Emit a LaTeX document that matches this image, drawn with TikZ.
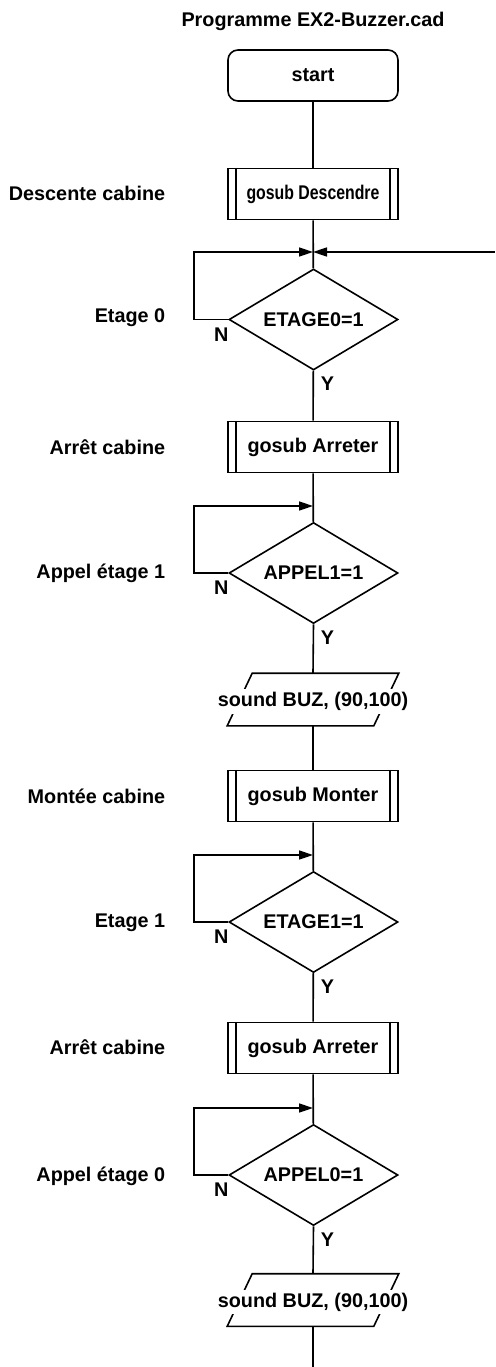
\documentclass[tikz,border=0pt]{standalone}
\usepackage{fontspec}
\setmainfont{Liberation Sans}
\usetikzlibrary{shapes.geometric,arrows.meta}
\begin{document}
\begin{tikzpicture}[x=1pt,y=-1pt,
  line width=1.6pt,
  every node/.style={font=\fontsize{19.8}{22}\selectfont\bfseries},
  startbox/.style={draw,rounded corners=10pt,minimum width=170pt,minimum height=51pt,inner sep=0pt},
  subbox/.style={draw,minimum width=170pt,minimum height=51pt,inner sep=0pt},
  decision/.style={draw,diamond,aspect=1.67,minimum width=169pt,minimum height=101pt,inner sep=0pt},
  iobox/.style={minimum width=170pt,minimum height=51pt,inner sep=0pt},
  iotext/.style={fill=white,inner xsep=1pt,inner ysep=3pt},
  lbl/.style={anchor=east,inner sep=0pt},
  yn/.style={inner sep=0pt},
  flow/.style={-{Triangle[length=14pt,width=9pt]}}
]
\useasboundingbox (0,0) rectangle (495,1367);

% title
\node (title) at (313,21) {Programme EX2-Buzzer.cad};

% nodes
\node[startbox] (start) at (313,75.5) {start};
\node[subbox] (gd) at (313,194) {\scalebox{0.8}[1]{gosub Descendre}};
\coordinate (j1) at (313,252);
\node[decision] (d1) at (313.5,319.5) {ETAGE0=1};
\node[subbox] (ga1) at (313,447) {gosub Arreter};
\coordinate (j2) at (313,506);
\node[decision] (d2) at (313.5,573) {APPEL1=1};
\node[iobox] (io1) at (313,699.5) {};
\node[subbox] (gm) at (313,796) {gosub Monter};
\coordinate (j3) at (313,855);
\node[decision] (d3) at (313.5,922) {ETAGE1=1};
\node[subbox] (ga2) at (313,1048) {gosub Arreter};
\coordinate (j4) at (313,1108);
\node[decision] (d4) at (313.5,1175) {APPEL0=1};
\node[iobox] (io2) at (313,1300) {};
\coordinate (endp) at (313,1367);

% subroutine inner bars
\foreach \n in {gd,ga1,gm,ga2}{
  \draw ([xshift=9pt]\n.north west) -- ([xshift=9pt]\n.south west);
  \draw ([xshift=-9pt]\n.north east) -- ([xshift=-9pt]\n.south east);
}

% io parallelograms
\foreach \n in {io1,io2}{
  \draw ([xshift=25pt]\n.north west) -- (\n.north east) -- ([xshift=-25pt]\n.south east) -- (\n.south west) -- cycle;
}
\node[iotext] (t1) at ([yshift=-2pt]io1.center) {sound BUZ, (90,100)};
\node[iotext] (t2) at ([yshift=-2pt]io2.center) {sound BUZ, (90,100)};

% side labels
\node[lbl] (l1) at (166,193) {Descente cabine};
\node[lbl] (l2) at (166,318) {Etage 0};
\node[lbl] (l3) at (166,447) {Arrêt cabine};
\node[lbl] (l4) at (166,573) {Appel étage 1};
\node[lbl] (l5) at (166,796) {Montée cabine};
\node[lbl] (l6) at (166,923) {Etage 1};
\node[lbl] (l7) at (166,1047) {Arrêt cabine};
\node[lbl] (l8) at (166,1176) {Appel étage 0};

% main flow
\draw (start) -- (gd);
\draw (gd) -- (d1);
\draw (d1) -- (ga1);
\draw (ga1) -- (d2);
\draw (d2.south) -- (io1.north);
\draw (io1.south) -- (gm.north);
\draw (gm) -- (d3);
\draw (d3) -- (ga2);
\draw (ga2) -- (d4);
\draw (d4.south) -- (io2.north);
\draw (io2.south) -- (endp);

% loops
\coordinate (c1) at (194,252);
\coordinate (c2) at (194,506);
\coordinate (c3) at (194,855);
\coordinate (c4) at (194,1108);
\coordinate (r1) at (495,252);
\draw[flow] (d1.west) -| (c1) -- (j1);
\draw[flow] (r1) -- (j1);
\draw[flow] (d2.west) -| (c2) -- (j2);
\draw[flow] (d3.west) -| (c3) -- (j3);
\draw[flow] (d4.west) -| (c4) -- (j4);

% N / Y labels
\foreach \d in {d1,d2,d3,d4}{
  \node[yn] at ([xshift=-7pt,yshift=-15pt]\d.west) {N};
  \node[yn] at ([xshift=14pt,yshift=-13pt]\d.south) {Y};
}
\end{tikzpicture}
\end{document}
